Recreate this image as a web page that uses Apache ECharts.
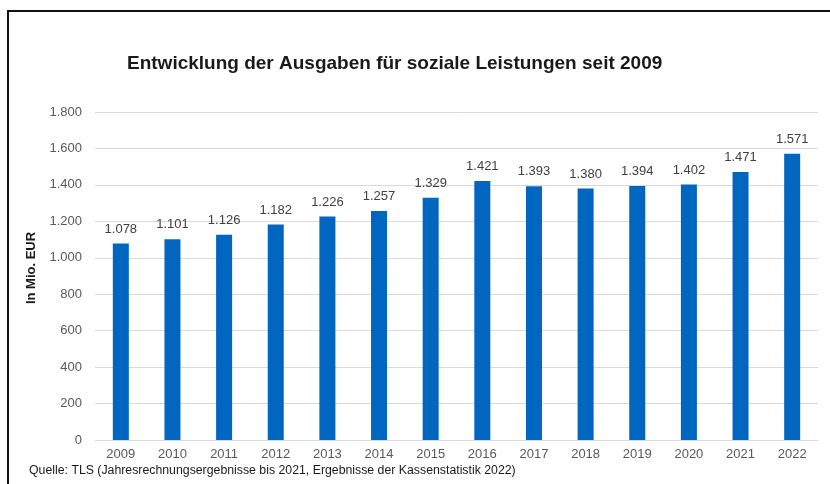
<!DOCTYPE html>
<html>
<head>
<meta charset="utf-8">
<script src="https://cdn.jsdelivr.net/npm/echarts@6/dist/echarts.min.js"></script>
<style>
  html, body { margin: 0; padding: 0; background: #fff; }
  #chart { width: 830px; height: 484px; }
</style>
</head>
<body>
<div id="chart"></div>
<script>
// Jahre und Ausgaben in Mio. EUR
var jahre = ['2009', '2010', '2011', '2012', '2013', '2014', '2015', '2016', '2017', '2018', '2019', '2020', '2021', '2022'];
var ausgaben = [1078, 1101, 1126, 1182, 1226, 1257, 1329, 1421, 1393, 1380, 1394, 1402, 1471, 1571];
var titel = 'Entwicklung der Ausgaben für soziale Leistungen seit 2009';
var einheit = 'In Mio. EUR';
var quelle = 'Quelle: TLS (Jahresrechnungsergebnisse bis 2021, Ergebnisse der Kassenstatistik 2022)';

function punkt(v) {
    // deutsches Tausendertrennzeichen
    return String(v).replace(/\B(?=(\d{3})+(?!\d))/g, '.');
}

var myChart = echarts.init(document.getElementById('chart'));
myChart.setOption({
    animation: false,
    textStyle: { fontFamily: 'Liberation Sans, Arial, sans-serif' },
    title: {
        text: titel,
        left: 122,
        top: 49,
        textStyle: { fontSize: 19, fontWeight: 'bold', color: '#1a1a1a' }
    },
    grid: { left: 95, right: 12, top: 112, bottom: 44 },
    xAxis: {
        type: 'category',
        data: jahre,
        axisTick: { show: false },
        axisLine: { lineStyle: { color: '#d9d9d9', width: 1 } },
        axisLabel: { color: '#595959', fontSize: 13, margin: 8 }
    },
    yAxis: {
        type: 'value',
        min: 0,
        max: 1800,
        interval: 200,
        axisLabel: {
            color: '#595959',
            fontSize: 13,
            margin: 13,
            formatter: function (v) { return punkt(v); }
        },
        splitLine: { lineStyle: { color: '#d9d9d9', width: 1 } }
    },
    series: [{
        type: 'bar',
        data: ausgaben,
        barWidth: '31%',
        itemStyle: { color: '#0066bf' },
        label: {
            show: true,
            position: 'top',
            distance: 8,
            color: '#404040',
            fontSize: 13,
            formatter: function (p) { return punkt(p.value); }
        }
    }],
    graphic: [
        {
            type: 'polyline',
            shape: { points: [[8, 484], [8, 11], [830, 11]] },
            style: { stroke: '#111', lineWidth: 2, fill: null }
        },
        {
            type: 'text',
            x: 31,
            y: 268,
            rotation: Math.PI / 2,
            style: {
                text: einheit, fontSize: 13, fontWeight: 'bold', fill: '#1a1a1a',
                align: 'center', verticalAlign: 'middle', fontFamily: 'Liberation Sans, Arial, sans-serif'
            }
        },
        {
            type: 'text',
            left: 29,
            top: 465,
            style: { text: quelle, fontSize: 12.3, fill: '#1a1a1a', fontFamily: 'Liberation Sans, Arial, sans-serif' }
        }
    ]
});
</script>
</body>
</html>
